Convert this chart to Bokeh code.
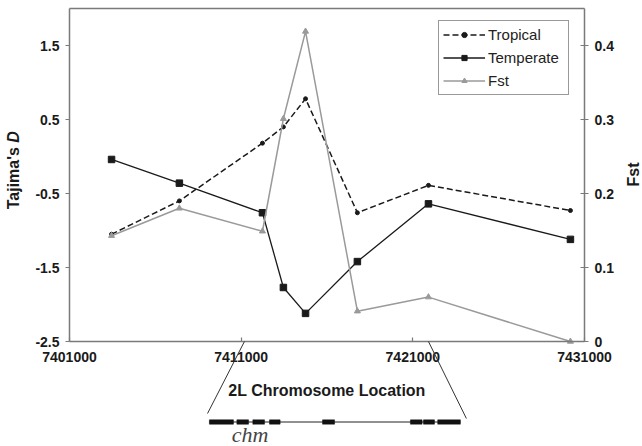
import math
from bokeh.plotting import figure
from bokeh.models import (LinearAxis, Range1d, FixedTicker, Legend, LegendItem,
                          PolyAnnotation, Label)
from bokeh.embed import file_html
from bokeh.resources import INLINE

# ---- data ----
positions = [7403450, 7407400, 7412240, 7413460, 7414750, 7417770, 7421910, 7430180]
tropical = [-1.05, -0.60, 0.18, 0.40, 0.78, -0.76, -0.39, -0.73]
temperate = [-0.04, -0.36, -0.76, -1.77, -2.12, -1.42, -0.64, -1.12]
fst = [0.143, 0.180, 0.149, 0.301, 0.419, 0.041, 0.060, 0.0]

x_ticks = [7401000, 7411000, 7421000, 7431000]
d_ticks = [-2.5, -1.5, -0.5, 0.5, 1.5]
fst_ticks = [0, 0.1, 0.2, 0.3, 0.4]

# gene model of chm (genomic coordinates)
exon_starts = [7409150, 7410750, 7411680, 7412650, 7415740, 7420860, 7421620, 7422450]
exon_ends = [7410550, 7411430, 7412360, 7413270, 7416440, 7421540, 7422260, 7423770]
gene_span = [7409150, 7423770]
zoom_left = [7411190, 7409040]
zoom_right = [7421910, 7424120]
gene_label_x = 7411520

# ---- axis extents of the chart box ----
X_MIN, X_MAX = 7401000, 7431000
D_MIN, D_MAX = -2.5, 2.0
F_MIN, F_MAX = 0.0, 0.45

# ---- layout (pixels of the 642x446 page) ----
W, H = 642, 446
BOX_L, BOX_R, BOX_T, BOX_B = 69, 584, 8, 341

xpp = (X_MAX - X_MIN) / (BOX_R - BOX_L)
dpp = (D_MAX - D_MIN) / (BOX_B - BOX_T)
fpp = (F_MAX - F_MIN) / (BOX_B - BOX_T)


def y_at(px):
    """vertical page pixel -> Tajima's D data units (for placing decorations)"""
    return D_MIN + (BOX_B - px) * dpp


FONT = "Liberation Sans"
INK = "#1a1a1a"
GREY = "#9a9a9a"
AX = "#7a7a7a"

p = figure(width=W, height=H, output_backend="svg", toolbar_location=None,
           x_range=Range1d(X_MIN - BOX_L * xpp, X_MAX + (W - BOX_R) * xpp),
           y_range=Range1d(D_MIN - (H - BOX_B) * dpp, D_MAX + BOX_T * dpp),
           min_border=0, x_axis_type=None, y_axis_type=None)
p.extra_y_ranges = {"fst": Range1d(F_MIN - (H - BOX_B) * fpp, F_MAX + BOX_T * fpp)}
p.xgrid.visible = False
p.ygrid.visible = False
p.outline_line_color = None


def style_axis(ax):
    ax.axis_line_color = AX
    ax.axis_line_width = 1.5
    ax.major_tick_line_color = AX
    ax.major_tick_line_width = 1.2
    ax.minor_tick_line_color = None
    ax.major_label_text_font = FONT
    ax.major_label_text_font_style = "bold"
    ax.major_label_text_font_size = "14px"
    ax.major_label_text_color = INK
    ax.axis_label_text_font = FONT
    ax.axis_label_text_font_style = "bold"
    ax.axis_label_text_font_size = "16px"
    ax.axis_label_text_color = INK


xa = LinearAxis(fixed_location=D_MIN, bounds=(X_MIN, X_MAX))
style_axis(xa)
xa.ticker = FixedTicker(ticks=x_ticks)
xa.major_label_overrides = {t: str(t) for t in x_ticks}
xa.major_tick_in = 4
xa.major_tick_out = 0
xa.major_label_standoff = 10
xa.axis_label = "2L Chromosome Location"
xa.axis_label_standoff = 17
p.add_layout(xa, "below")

ta = LinearAxis(fixed_location=D_MAX, bounds=(X_MIN, X_MAX))
style_axis(ta)
ta.ticker = FixedTicker(ticks=[])
ta.major_tick_line_color = None
p.add_layout(ta, "above")

ya = LinearAxis(fixed_location=X_MIN, bounds=(D_MIN, D_MAX))
style_axis(ya)
ya.ticker = FixedTicker(ticks=d_ticks)
ya.major_label_overrides = {t: str(t) for t in d_ticks}
ya.major_tick_in = 0
ya.major_tick_out = 4
ya.major_label_standoff = 6
p.add_layout(ya, "left")

ra = LinearAxis(y_range_name="fst", fixed_location=X_MAX, bounds=(F_MIN, F_MAX))
style_axis(ra)
ra.ticker = FixedTicker(ticks=fst_ticks)
ra.major_label_overrides = {0: "0", 0.1: "0.1", 0.2: "0.2", 0.3: "0.3", 0.4: "0.4"}
ra.major_tick_in = 4
ra.major_tick_out = 4
ra.major_label_standoff = 6
p.add_layout(ra, "right")

# ---- series ----
r1 = p.line(positions, tropical, line_color=INK, line_width=1.5, line_dash="6 3")
r1m = p.scatter(positions, tropical, marker="circle", size=4, color=INK)
r2 = p.line(positions, temperate, line_color=INK, line_width=1.3)
r2m = p.scatter(positions, temperate, marker="square", size=6.5, color=INK)
r3 = p.line(positions, fst, line_color=GREY, line_width=1.5, y_range_name="fst")
r3m = p.scatter(positions, fst, marker="triangle", size=6, color=GREY,
                y_range_name="fst")

legend = Legend(items=[LegendItem(label="Tropical", renderers=[r1, r1m]),
                       LegendItem(label="Temperate", renderers=[r2, r2m]),
                       LegendItem(label="Fst", renderers=[r3, r3m])],
                location=(438, H - 95),
                padding=4, spacing=4,
                glyph_width=42, glyph_height=13, label_height=19,
                label_width=76, label_standoff=3,
                label_text_font=FONT, label_text_font_size="15px",
                label_text_color="#222222", border_line_color="#333333",
                border_line_width=1.2, background_fill_alpha=1)
p.add_layout(legend)

# ---- axis titles ----
lab_x = X_MIN - 56 * xpp
p.add_layout(Label(x=lab_x, y=y_at(146.6), text="Tajima's", angle=math.pi / 2,
                   text_align="right", text_baseline="middle",
                   text_font=FONT, text_font_style="bold",
                   text_font_size="16px", text_color=INK))
p.add_layout(Label(x=lab_x, y=y_at(142.2), text="D", angle=math.pi / 2,
                   text_align="left", text_baseline="middle",
                   text_font=FONT, text_font_style="bold italic",
                   text_font_size="16px", text_color=INK))
p.add_layout(Label(x=X_MAX + 49 * xpp, y=y_at(174), text="Fst",
                   angle=math.pi / 2, text_align="center", text_baseline="middle",
                   text_font=FONT, text_font_style="bold",
                   text_font_size="16px", text_color=INK))

# ---- gene diagram below the axis ----
y_gene = y_at(421.5)
h = 2.2 * dpp
p.add_layout(PolyAnnotation(xs=zoom_left, ys=[D_MIN, y_at(413)],
                            fill_alpha=0, line_color="#333333", line_alpha=1,
                            line_width=1))
p.add_layout(PolyAnnotation(xs=zoom_right, ys=[D_MIN, y_at(418)],
                            fill_alpha=0, line_color="#333333", line_alpha=1,
                            line_width=1))
p.add_layout(PolyAnnotation(xs=gene_span, ys=[y_gene, y_gene],
                            fill_alpha=0, line_color="#222222", line_alpha=1,
                            line_width=1))
for s, e in zip(exon_starts, exon_ends):
    p.add_layout(PolyAnnotation(xs=[s, e, e, s],
                                ys=[y_gene - h, y_gene - h, y_gene + h, y_gene + h],
                                fill_color="#111111", fill_alpha=1,
                                line_color="#111111", line_alpha=1, line_width=0.5))
p.add_layout(Label(x=gene_label_x, y=y_at(434), text="chm", text_align="center",
                   text_baseline="middle", text_font="Liberation Serif",
                   text_font_style="italic", text_font_size="22px",
                   text_color="#444444"))

open("out.html", "w").write(file_html(p, INLINE))
